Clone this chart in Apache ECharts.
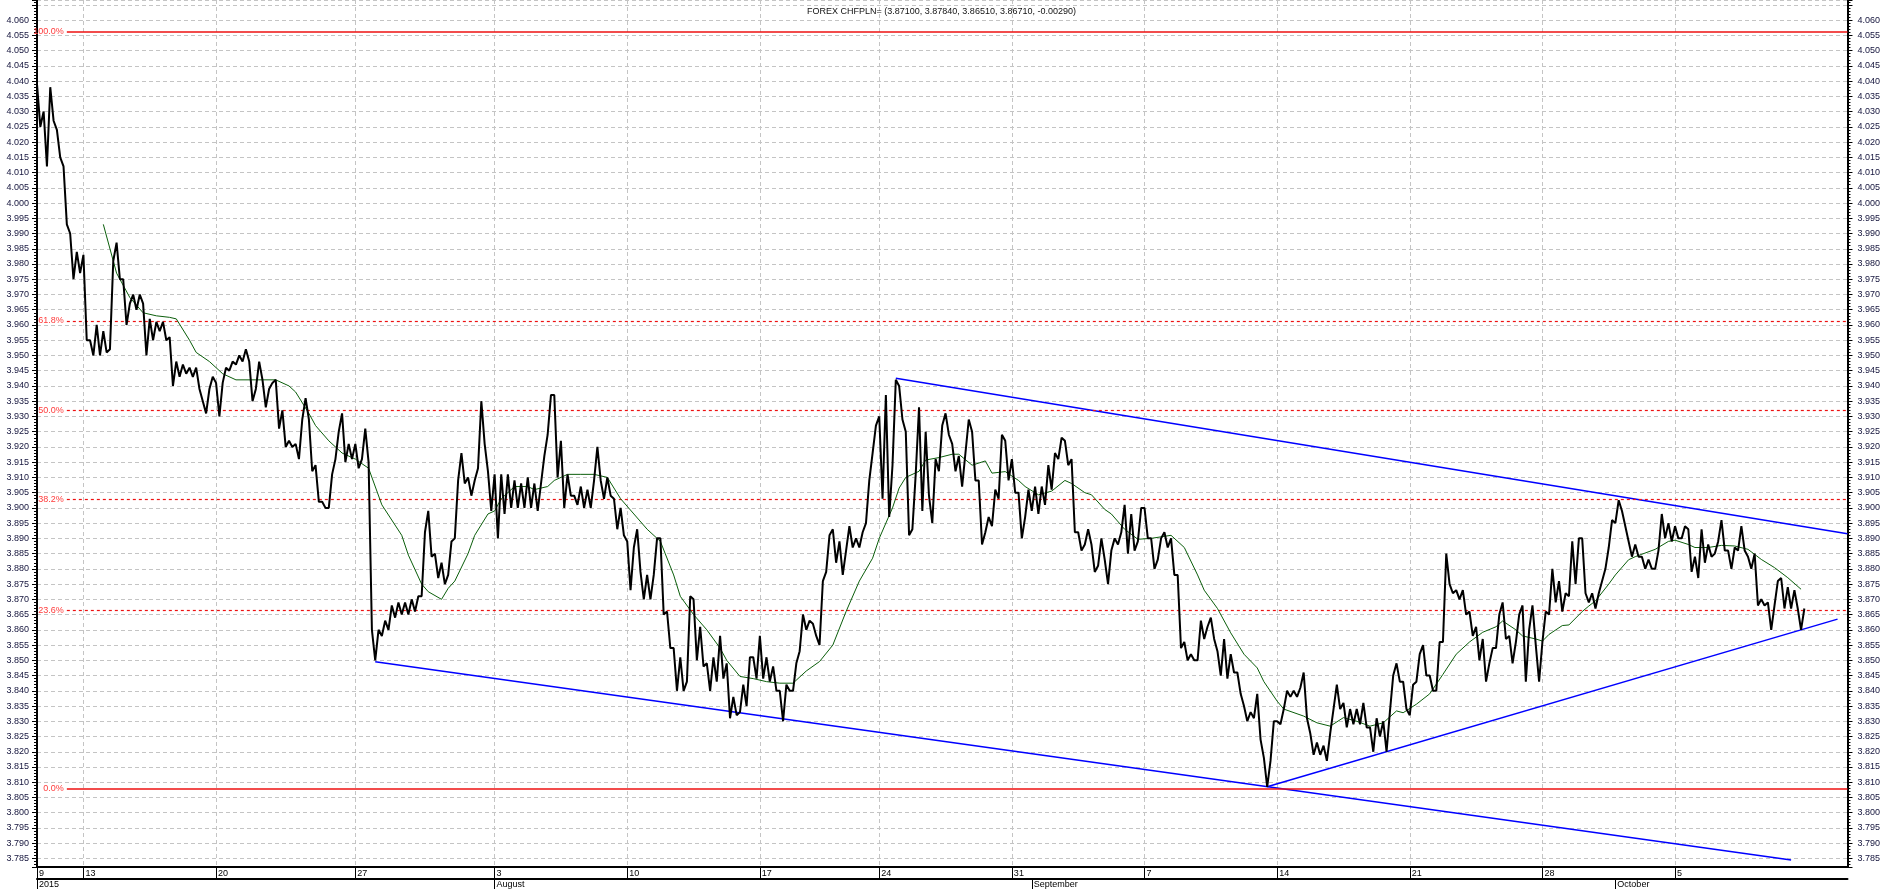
<!DOCTYPE html>
<html><head><meta charset="utf-8">
<script src="https://cdn.jsdelivr.net/npm/echarts@6/dist/echarts.min.js"></script>
<style>html,body{margin:0;padding:0;background:#fff}#c{width:1883px;height:889px}</style>
</head><body><div id="c"></div>
<script>
// ---- tick labels / time slots (one slot = 6 trading hours, two price samples per slot) ----
const weekLabels = ['9','13','20','27','3','10','17','24','31','7','14','21','28','5'];
const weekStartSlot = [0,7,27,48,69,89,109,127,147,167,187,207,227,247];
const monthLabels = ['2015','August','September','October'];
const monthStartSlot = [0,69,150,238];
const totalSlots = 273;
const titleText = 'FOREX CHFPLN= (3.87100, 3.87840, 3.86510, 3.86710, -0.00290)';

// ---- price (CHF/PLN), two samples per slot ----
const priceJulA = [4.039,4.025,4.030,4.012,4.038,4.027,4.024,4.015,4.012,3.993,3.990,3.975,3.984,3.977,3.983,3.955,3.955,3.950,3.960,3.950,
3.958,3.951,3.952,3.981,3.987,3.975,3.975,3.960,3.967,3.970,3.965,3.970,3.967,3.950,3.962,3.955,3.961,3.958,3.961,3.955,
3.956,3.940,3.948,3.943,3.947,3.944,3.946,3.943,3.946,3.939,3.935,3.931,3.939,3.943,3.941,3.930,3.941,3.946,3.945,3.948,
3.947,3.950,3.948,3.952,3.948,3.935,3.939,3.948,3.942,3.933,3.939,3.941,3.942,3.926,3.932,3.920,3.922,3.920,3.921,3.916,
3.929,3.936,3.929,3.912,3.914,3.902,3.902,3.900,3.900,3.911,3.916,3.925,3.931,3.915,3.921,3.916,3.921,3.913,3.916,3.926,
3.915,3.860,3.850,3.860,3.858,3.863,3.860,3.868,3.864,3.869];
const priceAugA = [3.865,3.869,3.865,3.870,3.866,3.871,3.871,3.892,3.899,3.884,3.885,3.877,3.882,3.875,3.878,3.889,3.890,3.909,3.918,3.908,
3.910,3.904,3.909,3.913,3.935,3.921,3.912,3.899,3.911,3.890,3.911,3.898,3.911,3.900,3.909,3.900,3.908,3.900,3.910,3.900,
3.908,3.899,3.908,3.917,3.924,3.937,3.937,3.910,3.922,3.900,3.911,3.904,3.904,3.901,3.907,3.900,3.906,3.900,3.909,3.920,
3.909,3.903,3.910,3.904,3.903,3.893,3.900,3.891,3.889,3.873,3.887,3.893,3.879,3.870,3.878,3.870,3.878,3.890,3.890,3.865,
3.866,3.854,3.854,3.840,3.851,3.840,3.843,3.871,3.870,3.850,3.861,3.848,3.849,3.840,3.851,3.843,3.858,3.844,3.849,3.831,
3.838,3.832,3.833,3.842,3.835,3.851,3.851,3.844];
const priceAugB = [3.858,3.844,3.851,3.843,3.848,3.840,3.840,3.830,3.842,3.840,3.840,3.849,3.853,3.865,3.860,3.863,3.862,3.858,3.855,3.876,
3.879,3.891,3.893,3.882,3.889,3.878,3.886,3.894,3.887,3.890,3.887,3.892,3.895,3.909,3.918,3.927,3.930,3.903,3.937,3.897,
3.914,3.942,3.940,3.929,3.925,3.891,3.893,3.911,3.933,3.899,3.925,3.904,3.895,3.916,3.912,3.927,3.931,3.924,3.921,3.912,
3.917,3.907,3.918,3.929,3.925,3.909,3.909,3.888,3.892,3.897,3.894,3.906,3.903,3.924,3.922,3.909,3.916,3.905,3.905,3.890,
3.897,3.906,3.899,3.907,3.898,3.907,3.901,3.914,3.906,3.918,3.916,3.923,3.922,3.914,3.916,3.892,3.892,3.886,3.888,3.893,
3.888,3.879,3.881,3.890,3.883,3.875,3.886,3.890,3.888,3.892];
const priceSep = [3.901,3.885,3.898,3.886,3.889,3.900,3.900,3.890,3.890,3.880,3.883,3.890,3.892,3.887,3.890,3.878,3.878,3.854,3.856,3.850,
3.852,3.850,3.850,3.863,3.857,3.861,3.864,3.857,3.853,3.845,3.857,3.844,3.852,3.846,3.846,3.839,3.835,3.830,3.833,3.831,
3.839,3.824,3.818,3.8085,3.817,3.830,3.830,3.829,3.834,3.840,3.838,3.840,3.838,3.841,3.846,3.831,3.826,3.819,3.823,3.819,
3.822,3.817,3.826,3.834,3.842,3.834,3.836,3.828,3.834,3.829,3.834,3.829,3.836,3.828,3.828,3.820,3.831,3.825,3.830,3.820,
3.833,3.845,3.849,3.843,3.843,3.834,3.832,3.842,3.843,3.852,3.855,3.845,3.845,3.840,3.840,3.856,3.856,3.885,3.875,3.872,
3.873,3.870,3.873,3.865,3.866,3.858,3.861,3.850];
const priceOct = [3.857,3.843,3.849,3.854,3.854,3.865,3.869,3.857,3.858,3.849,3.856,3.865,3.868,3.843,3.860,3.868,3.855,3.843,3.856,3.866,
3.865,3.880,3.869,3.876,3.866,3.872,3.871,3.889,3.875,3.890,3.890,3.872,3.869,3.872,3.867,3.872,3.876,3.880,3.887,3.896,
3.895,3.9025,3.899,3.894,3.889,3.884,3.888,3.884,3.884,3.880,3.883,3.880,3.880,3.886,3.898,3.890,3.895,3.889,3.894,3.890,
3.890,3.894,3.893,3.879,3.884,3.877,3.893,3.882,3.888,3.884,3.885,3.889,3.896,3.886,3.886,3.880,3.887,3.886,3.894,3.886,
3.884,3.880,3.885,3.868,3.870,3.868,3.869,3.860,3.868,3.876,3.877,3.867,3.874,3.867,3.873,3.867,3.860,3.867];

// ---- moving average (green) ----
const maSlot = [10,12,14,16,18,20,21,23,24,26,28,30,34,36,38,39,41,42,44,46,48,50,52,55,56,58,59,61,62,63,65,66,68,69,70,72,74,75,77,78,80,82,84,86,88,90,92,94,96,97,99,101,103,104,106,108,110,112,114,116,118,120,122,124,126,127,129,130,131,133,134,136,138,139,141,143,144,146,148,149,151,153,155,156,158,159,161,162,164,166,168,171,173,175,176,178,180,182,184,185,187,188,191,193,195,197,199,201,203,205,206,208,210,212,214,216,218,220,221,223,224,226,227,228,230,231,233,234,235,237,238,240,241,242,244,246,247,249,250,252,254,256,258,260,262,264,266];
const maValue = [3.993,3.977,3.969,3.964,3.963,3.9625,3.962,3.955,3.951,3.948,3.944,3.942,3.942,3.942,3.940,3.938,3.931,3.927,3.922,3.918,3.916,3.913,3.901,3.891,3.8845,3.875,3.8725,3.870,3.8736,3.876,3.885,3.891,3.898,3.899,3.903,3.907,3.907,3.906,3.907,3.909,3.911,3.911,3.911,3.910,3.903,3.898,3.893,3.889,3.878,3.871,3.865,3.860,3.854,3.850,3.8447,3.844,3.843,3.8425,3.8425,3.8465,3.8496,3.855,3.866,3.876,3.8835,3.890,3.900,3.9065,3.910,3.912,3.9157,3.9165,3.9176,3.9176,3.914,3.9154,3.9114,3.9119,3.909,3.907,3.9043,3.9055,3.909,3.908,3.905,3.9043,3.8995,3.898,3.893,3.8897,3.890,3.891,3.887,3.878,3.873,3.867,3.859,3.852,3.8475,3.843,3.8366,3.834,3.8317,3.8295,3.8284,3.8312,3.830,3.8284,3.8295,3.8334,3.8328,3.8356,3.839,3.8454,3.852,3.856,3.8592,3.861,3.8629,3.860,3.858,3.857,3.8563,3.8585,3.8614,3.8616,3.866,3.8678,3.8695,3.875,3.878,3.883,3.884,3.8848,3.8864,3.889,3.8894,3.888,3.887,3.887,3.8877,3.8875,3.8864,3.8831,3.8804,3.8771,3.8733];

// ---- Fibonacci retracement levels ----
const fibLevels = [4.0562, 3.9613, 3.9320, 3.9027, 3.8664, 3.8078];
const fibLabels = ['100.0%','61.8%','50.0%','38.2%','23.6%','0.0%'];
const fibSolid = [true,false,false,false,false,true];

// ---- trend lines (slot, value) ----
const trendUpperSlot = [129.5, 273];   const trendUpperValue = [3.9425, 3.8915];
const trendLowerSlot = [51, 264.5];    const trendLowerValue = [3.8495, 3.7845];
const trendRiseSlot  = [185.5, 271.5]; const trendRiseValue  = [3.8085, 3.8635];

const yMin = 3.7822, yMax = 4.0666;

// ---- build ----
const nCat = totalSlots * 2 + 1;
const weekHalf = weekStartSlot.map(s => s * 2);
const cats = [];
for (let c = 0; c < nCat; c++) {
  let w = 0;
  for (let k = 0; k < weekHalf.length; k++) if (weekHalf[k] <= c) w = k;
  cats.push(weekLabels[w] + '/' + (c - weekHalf[w]));
}
const weekMap = new Map(weekHalf.map((c, k) => [c, weekLabels[k]]));
const monthMap = new Map(monthStartSlot.map((s, k) => [s * 2, monthLabels[k]]));
const at = s => cats[Math.round(s * 2)];
const price = [].concat(priceJulA, priceAugA, priceAugB, priceSep, priceOct);
const maData = maSlot.map((s, k) => [at(s), maValue[k]]);
const seg = (sl, vl) => sl.map((s, k) => [at(s), vl[k]]);

const FONT = 'Liberation Sans';
const isMul5 = v => Math.abs(v / 0.005 - Math.round(v / 0.005)) < 1e-6;
const yLabelFmt = v => (isMul5(v) && v < 4.0625) ? v.toFixed(3) : '';

function yAxisCfg(pos, grid) {
  return {
    type: 'value', position: pos, min: yMin, max: yMax, splitNumber: 57, scale: true,
    axisLine: { show: true, onZero: false, lineStyle: { color: '#000', width: 2 } },
    axisTick: { show: true, length: 5, lineStyle: { color: '#000', width: 1 } },
    minorTick: { show: true, splitNumber: 5, length: 3, lineStyle: { color: '#000', width: 1 } },
    axisLabel: { fontSize: 9, color: '#14143c', fontFamily: FONT, margin: pos === 'left' ? 8 : 10, formatter: yLabelFmt },
    splitLine: { show: grid, lineStyle: { color: '#c4c4c4', type: [4, 3], width: 1 } },
    minorSplitLine: { show: false }
  };
}

const chart = echarts.init(document.getElementById('c'), null, { renderer: 'canvas' });
chart.setOption({
  animation: false,
  backgroundColor: '#ffffff',
  title: { text: titleText, left: 'center', top: 2,
    textStyle: { fontSize: 9, fontWeight: 'normal', color: '#111', fontFamily: FONT } },
  grid: { left: 37, right: 35, top: 0, bottom: 22, containLabel: false },
  xAxis: [
    { type: 'category', data: cats, boundaryGap: false, position: 'bottom',
      axisLine: { show: true, onZero: false, lineStyle: { color: '#000', width: 2 } },
      axisTick: { show: true, interval: (i) => weekMap.has(i), length: 12, lineStyle: { color: '#000', width: 1 } },
      axisLabel: { show: true, interval: (i) => weekMap.has(i), formatter: (v, i) => weekMap.get(i) || '',
        align: 'left', padding: [0, 0, 0, 2], margin: 2, fontSize: 9, color: '#000', fontFamily: FONT },
      splitLine: { show: true, interval: (i) => weekMap.has(i), lineStyle: { color: '#c4c4c4', type: [4, 3], width: 1 } } },
    { type: 'category', data: cats, boundaryGap: false, position: 'bottom', offset: 12,
      axisLine: { show: true, onZero: false, lineStyle: { color: '#000', width: 2 } },
      axisTick: { show: true, interval: (i) => monthMap.has(i), length: 10, lineStyle: { color: '#000', width: 1 } },
      axisLabel: { show: true, interval: (i) => monthMap.has(i), formatter: (v, i) => monthMap.get(i) || '',
        align: 'left', padding: [0, 0, 0, 2], margin: 1, fontSize: 9, color: '#000', fontFamily: FONT },
      splitLine: { show: false } }
  ],
  yAxis: [ yAxisCfg('left', true), yAxisCfg('right', false) ],
  series: [
    { name: 'fib', type: 'line', data: [], z: 3,
      markLine: { silent: true, symbol: ['none', 'none'], animation: false,
        data: fibLevels.map((v, k) => [
          { coord: [at(4.5), v],
            lineStyle: { color: '#ee1111', width: fibSolid[k] ? 1.5 : 1.2, type: fibSolid[k] ? 'solid' : [3, 3] },
            label: { show: true, position: 'start', formatter: fibLabels[k], color: '#ff3b3b', fontSize: 9, fontFamily: FONT, distance: 3 } },
          { coord: [at(totalSlots), v] }
        ]) } },
    { name: 'upper', type: 'line', data: seg(trendUpperSlot, trendUpperValue), showSymbol: false, z: 4,
      lineStyle: { color: '#0000ff', width: 1.5 } },
    { name: 'lower', type: 'line', data: seg(trendLowerSlot, trendLowerValue), showSymbol: false, z: 4,
      lineStyle: { color: '#0000ff', width: 1.5 } },
    { name: 'rise', type: 'line', data: seg(trendRiseSlot, trendRiseValue), showSymbol: false, z: 4,
      lineStyle: { color: '#0000ff', width: 1.5 } },
    { name: 'MA', type: 'line', data: maData, showSymbol: false, z: 5, connectNulls: true,
      lineStyle: { color: '#0b5e0b', width: 1 } },
    { name: 'CHFPLN', type: 'line', data: price, showSymbol: false, z: 6,
      lineStyle: { color: '#000000', width: 2 } }
  ]
});
</script>
</body></html>
